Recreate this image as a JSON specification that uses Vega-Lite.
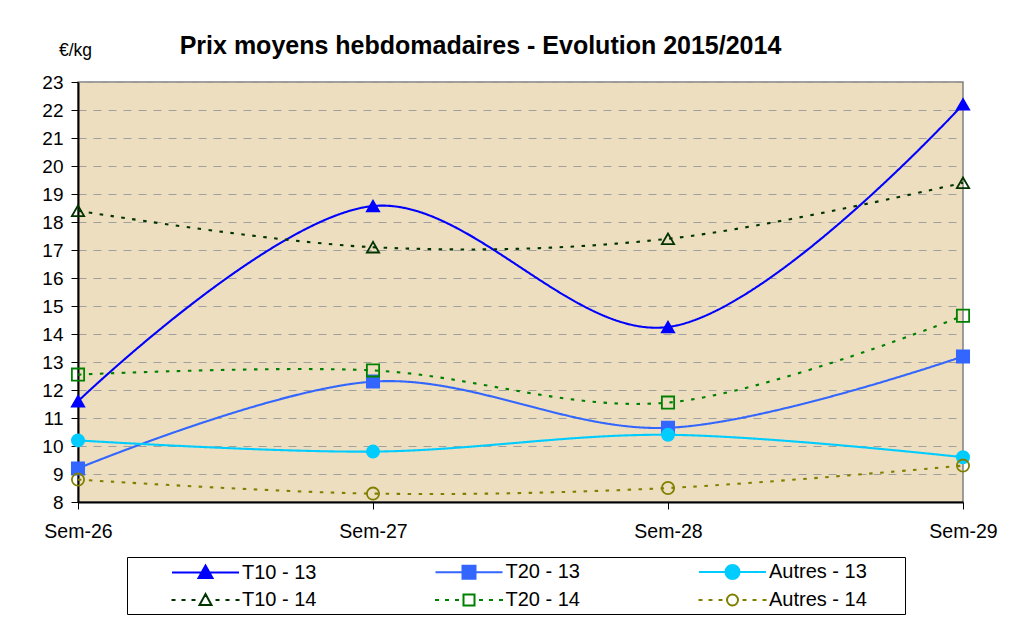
{
  "$schema": "https://vega.github.io/schema/vega-lite/v6.json",
  "width": 885,
  "height": 420,
  "autosize": {"type": "none"},
  "padding": {"left": 78, "top": 82, "right": 56, "bottom": 117},
  "background": "white",
  "title": {
    "text": "Prix moyens hebdomadaires - Evolution 2015/2014",
    "font": "Liberation Sans",
    "fontSize": 25,
    "fontWeight": "bold",
    "color": "black",
    "anchor": "middle",
    "dx": -40,
    "dy": 38,
    "offset": 0,
    "baseline": "alphabetic",
    "frame": "group"
  },
  "data": {
    "values": [
      {"semaine": "Sem-26", "serie": "T10 - 13", "prix": 11.6},
      {"semaine": "Sem-27", "serie": "T10 - 13", "prix": 18.57},
      {"semaine": "Sem-28", "serie": "T10 - 13", "prix": 14.25},
      {"semaine": "Sem-29", "serie": "T10 - 13", "prix": 22.2},
      {"semaine": "Sem-26", "serie": "T20 - 13", "prix": 9.2},
      {"semaine": "Sem-27", "serie": "T20 - 13", "prix": 12.3},
      {"semaine": "Sem-28", "serie": "T20 - 13", "prix": 10.65},
      {"semaine": "Sem-29", "serie": "T20 - 13", "prix": 13.2},
      {"semaine": "Sem-26", "serie": "Autres - 13", "prix": 10.2},
      {"semaine": "Sem-27", "serie": "Autres - 13", "prix": 9.8},
      {"semaine": "Sem-28", "serie": "Autres - 13", "prix": 10.4},
      {"semaine": "Sem-29", "serie": "Autres - 13", "prix": 9.6},
      {"semaine": "Sem-26", "serie": "T10 - 14", "prix": 18.4},
      {"semaine": "Sem-27", "serie": "T10 - 14", "prix": 17.1},
      {"semaine": "Sem-28", "serie": "T10 - 14", "prix": 17.4},
      {"semaine": "Sem-29", "serie": "T10 - 14", "prix": 19.4},
      {"semaine": "Sem-26", "serie": "T20 - 14", "prix": 12.55},
      {"semaine": "Sem-27", "serie": "T20 - 14", "prix": 12.7},
      {"semaine": "Sem-28", "serie": "T20 - 14", "prix": 11.55},
      {"semaine": "Sem-29", "serie": "T20 - 14", "prix": 14.65},
      {"semaine": "Sem-26", "serie": "Autres - 14", "prix": 8.8},
      {"semaine": "Sem-27", "serie": "Autres - 14", "prix": 8.3},
      {"semaine": "Sem-28", "serie": "Autres - 14", "prix": 8.5},
      {"semaine": "Sem-29", "serie": "Autres - 14", "prix": 9.3}
    ]
  },
  "encoding": {
    "x": {
      "field": "semaine",
      "type": "ordinal",
      "scale": {"type": "point", "domain": ["Sem-26", "Sem-27", "Sem-28", "Sem-29"], "padding": 0},
      "axis": {
        "title": null,
        "labelAngle": 0,
        "labelFont": "Liberation Sans",
        "labelFontSize": 19.5,
        "labelColor": "black",
        "labelPadding": 13,
        "tickSize": 7,
        "tickColor": "black",
        "tickWidth": 1,
        "domainColor": "black",
        "domainWidth": 2,
        "grid": false
      }
    },
    "y": {
      "field": "prix",
      "type": "quantitative",
      "scale": {"domain": [8, 23], "nice": false, "zero": false},
      "axis": {
        "title": "€/kg",
        "titleAngle": 0,
        "titleAlign": "center",
        "titleBaseline": "alphabetic",
        "titleX": -3,
        "titleY": -27,
        "titleFont": "Liberation Sans",
        "titleFontSize": 17.5,
        "titleFontWeight": "normal",
        "titleColor": "black",
        "values": [8, 9, 10, 11, 12, 13, 14, 15, 16, 17, 18, 19, 20, 21, 22, 23],
        "labelFont": "Liberation Sans",
        "labelFontSize": 19,
        "labelColor": "black",
        "labelPadding": 8,
        "tickSize": 7,
        "tickColor": "black",
        "domainColor": "black",
        "domainWidth": 2,
        "grid": true,
        "gridColor": "#A0A0A0",
        "gridDash": [8, 7],
        "gridWidth": 1
      }
    }
  },
  "layer": [
    {
      "mark": {"type": "line", "interpolate": "catmull-rom", "strokeWidth": 2.1},
      "encoding": {
        "stroke": {
          "field": "serie",
          "type": "nominal",
          "scale": {
            "domain": ["T10 - 13", "T20 - 13", "Autres - 13", "T10 - 14", "T20 - 14", "Autres - 14"],
            "range": ["#0000FF", "#3366FF", "#00CCFF", "#003300", "#008000", "#808000"]
          },
          "legend": null
        },
        "strokeDash": {
          "field": "serie",
          "type": "nominal",
          "scale": {
            "domain": ["T10 - 13", "T20 - 13", "Autres - 13", "T10 - 14", "T20 - 14", "Autres - 14"],
            "range": [[1, 0], [1, 0], [1, 0], [3.5, 7.5], [3.5, 7.5], [3.5, 7.5]]
          },
          "legend": null
        }
      }
    },
    {
      "mark": {"type": "point", "size": 150, "strokeWidth": 1.8, "opacity": 1},
      "encoding": {
        "shape": {
          "field": "serie",
          "type": "nominal",
          "scale": {
            "domain": ["T10 - 13", "T20 - 13", "Autres - 13", "T10 - 14", "T20 - 14", "Autres - 14"],
            "range": ["triangle-up", "square", "circle", "triangle-up", "square", "circle"]
          },
          "legend": null
        },
        "fill": {
          "field": "serie",
          "type": "nominal",
          "scale": {
            "domain": ["T10 - 13", "T20 - 13", "Autres - 13", "T10 - 14", "T20 - 14", "Autres - 14"],
            "range": ["#0000FF", "#3366FF", "#00CCFF", "transparent", "transparent", "transparent"]
          },
          "legend": null
        },
        "stroke": {
          "field": "serie",
          "type": "nominal",
          "scale": {
            "domain": ["T10 - 13", "T20 - 13", "Autres - 13", "T10 - 14", "T20 - 14", "Autres - 14"],
            "range": ["#0000FF", "#3366FF", "#00CCFF", "#003300", "#008000", "#808000"]
          },
          "legend": null
        }
      }
    },
    {
      "mark": {"type": "point", "size": 400, "strokeWidth": 2, "opacity": 0},
      "encoding": {
        "fill": {
          "field": "serie",
          "type": "nominal",
          "scale": {
            "domain": ["T10 - 13", "T20 - 13", "Autres - 13", "T10 - 14", "T20 - 14", "Autres - 14"],
            "range": ["#0000FF", "#3366FF", "#00CCFF", "transparent", "transparent", "transparent"]
          },
          "legend": {
            "orient": "none",
            "legendX": 49,
            "legendY": 475,
            "direction": "horizontal",
            "columns": 3,
            "title": "\u00a0",
            "titleOrient": "right",
            "titlePadding": 34,
            "titleFontSize": 20,
            "strokeColor": "black",
            "fillColor": "white",
            "padding": 4,
            "rowPadding": 6,
            "columnPadding": 77.5,
            "symbolOffset": 63.5,
            "labelOffset": 25.5,
            "symbolSize": 400,
            "symbolStrokeWidth": 2,
            "labelFont": "Liberation Sans",
            "labelFontSize": 20,
            "labelColor": "black",
            "labelLimit": 300,
            "encode": {"symbols": {"update": {"opacity": {"value": 1}}}}
          }
        },
        "stroke": {
          "field": "serie",
          "type": "nominal",
          "scale": {
            "domain": ["T10 - 13", "T20 - 13", "Autres - 13", "T10 - 14", "T20 - 14", "Autres - 14"],
            "range": ["#0000FF", "#3366FF", "#00CCFF", "#003300", "#008000", "#808000"]
          }
        },
        "shape": {
          "field": "serie",
          "type": "nominal",
          "scale": {
            "domain": ["T10 - 13", "T20 - 13", "Autres - 13", "T10 - 14", "T20 - 14", "Autres - 14"],
            "range": [
              "M-3.35,0H3.35M0,-0.7L0.7,0.55L-0.7,0.55Z",
              "M-3.35,0H3.35M-0.65,-0.65H0.65V0.65H-0.65Z",
              "M-3.35,0H3.35M-0.7,0A0.7,0.7,0,1,0,0.7,0A0.7,0.7,0,1,0,-0.7,0Z",
              "M-3.4,0H-3M-2.4,0H-2M-1.4,0H-1M1,0H1.4M2,0H2.4M3,0H3.4M0,-0.6L0.6,0.5L-0.6,0.5Z",
              "M-3.4,0H-3M-2.4,0H-2M-1.4,0H-1M1,0H1.4M2,0H2.4M3,0H3.4M-0.55,-0.55H0.55V0.55H-0.55Z",
              "M-3.4,0H-3M-2.4,0H-2M-1.4,0H-1M1,0H1.4M2,0H2.4M3,0H3.4M-0.55,0A0.55,0.55,0,1,0,0.55,0A0.55,0.55,0,1,0,-0.55,0Z"
            ]
          }
        }
      }
    }
  ],
  "resolve": {"scale": {"fill": "independent", "stroke": "independent", "shape": "independent", "strokeDash": "independent"}},
  "config": {
    "font": "Liberation Sans",
    "view": {"stroke": "#808080", "fill": "#ECDEBE", "strokeWidth": 1.5}
  }
}
